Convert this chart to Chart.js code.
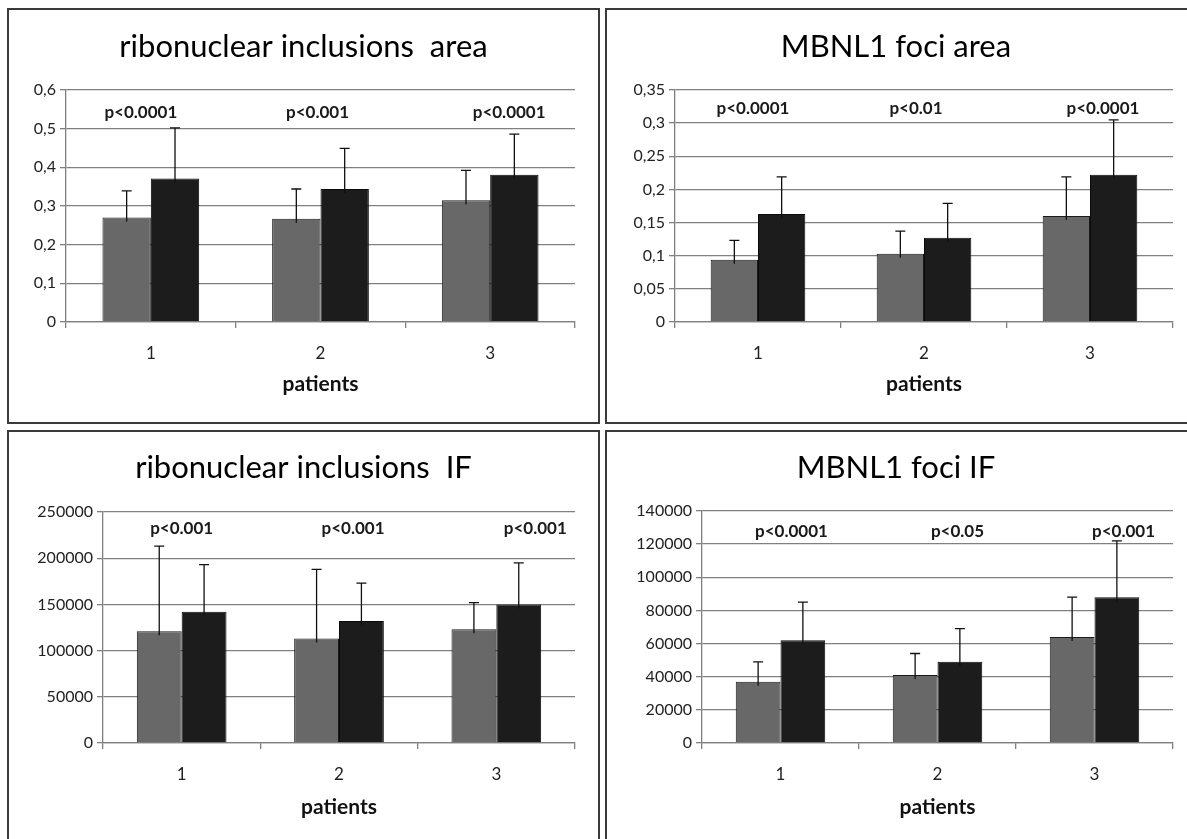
<!DOCTYPE html>
<html>
<head>
<meta charset="utf-8">
<script src="https://cdn.jsdelivr.net/npm/chart.js@4"></script>
<style>
  html, body { margin: 0; background: #fff; width: 1187px; height: 839px; overflow: hidden; }
  body { position: relative; }
  .panel { position: absolute; border: 2px solid #3a3a3a; box-sizing: border-box; }
  canvas { position: absolute; }
</style>
</head>
<body>
<div class="panel" style="left:7px;top:8px;width:593px;height:416px"></div>
<div class="panel" style="left:605px;top:8px;width:620px;height:416px"></div>
<div class="panel" style="left:7px;top:430px;width:593px;height:440px"></div>
<div class="panel" style="left:605px;top:430px;width:620px;height:440px"></div>
<canvas id="c1" width="589" height="412" style="left:9px;top:10px"></canvas>
<canvas id="c2" width="578" height="412" style="left:607px;top:10px"></canvas>
<canvas id="c3" width="589" height="407" style="left:9px;top:432px"></canvas>
<canvas id="c4" width="578" height="407" style="left:607px;top:432px"></canvas>
<script>
// ========== Data ==========
const patients = ['1', '2', '3'];

// ribonuclear inclusions area
const riAreaGray = [0.270, 0.267, 0.315];
const riAreaGrayErr = [0.069, 0.077, 0.077];
const riAreaBlack = [0.371, 0.344, 0.381];
const riAreaBlackErr = [0.131, 0.105, 0.105];
const riAreaP = ['p<0.0001', 'p<0.001', 'p<0.0001'];
const riAreaTicks = ['0', '0,1', '0,2', '0,3', '0,4', '0,5', '0,6'];

// MBNL1 foci area
const mbAreaGray = [0.094, 0.103, 0.160];
const mbAreaGrayErr = [0.029, 0.034, 0.059];
const mbAreaBlack = [0.163, 0.127, 0.222];
const mbAreaBlackErr = [0.056, 0.052, 0.083];
const mbAreaP = ['p<0.0001', 'p<0.01', 'p<0.0001'];
const mbAreaTicks = ['0', '0,05', '0,1', '0,15', '0,2', '0,25', '0,3', '0,35'];

// ribonuclear inclusions IF
const riIfGray = [121000, 113000, 123000];
const riIfGrayErr = [92000, 75000, 29000];
const riIfBlack = [142000, 132000, 150000];
const riIfBlackErr = [51000, 41000, 45000];
const riIfP = ['p<0.001', 'p<0.001', 'p<0.001'];
const riIfTicks = ['0', '50000', '100000', '150000', '200000', '250000'];

// MBNL1 foci IF
const mbIfGray = [37000, 41000, 64000];
const mbIfGrayErr = [12000, 13000, 24000];
const mbIfBlack = [62000, 49000, 88000];
const mbIfBlackErr = [23000, 20000, 34000];
const mbIfP = ['p<0.0001', 'p<0.05', 'p<0.001'];
const mbIfTicks = ['0', '20000', '40000', '60000', '80000', '100000', '120000', '140000'];

const FONT = 'Lato, Carlito, Calibri, sans-serif';

// ========== Plugins ==========
const errorBars = {
  id: 'errorBars',
  afterDatasetsDraw(chart) {
    const ctx = chart.ctx;
    const y = chart.scales.y;
    ctx.save();
    ctx.strokeStyle = '#111';
    ctx.lineWidth = 1.3;
    chart.data.datasets.forEach((ds, di) => {
      chart.getDatasetMeta(di).data.forEach((bar, i) => {
        const top = y.getPixelForValue(ds.data[i] + ds.err[i]);
        ctx.beginPath();
        ctx.moveTo(bar.x, bar.y + 4);
        ctx.lineTo(bar.x, top);
        ctx.moveTo(bar.x - 5, top);
        ctx.lineTo(bar.x + 5, top);
        ctx.stroke();
      });
    });
    ctx.restore();
  }
};

// title + p-values
const panelText = {
  id: 'panelText',
  afterDraw(chart, args, opts) {
    const ctx = chart.ctx;
    const x = chart.scales.x;
    ctx.save();
    ctx.textAlign = 'center';
    ctx.textBaseline = 'middle';
    ctx.fillStyle = '#000';
    ctx.font = '31px ' + FONT;
    ctx.fillText(opts.title, chart.width / 2, opts.titleY);
    ctx.fillStyle = '#1a1a1a';
    ctx.font = 'bold 17px ' + FONT;
    opts.labels.forEach((t, i) => {
      ctx.fillText(t, x.getPixelForValue(i) + opts.dx[i], chart.chartArea.top + opts.dy);
    });
    ctx.restore();
  }
};

// ========== Chart ==========
function makePanel(id, o) {
  new Chart(document.getElementById(id), {
    type: 'bar',
    data: {
      labels: patients,
      datasets: [
        { data: o.gray, err: o.grayErr, backgroundColor: '#686868', borderColor: '#1a1a1a', borderWidth: 1 },
        { data: o.black, err: o.blackErr, backgroundColor: '#1c1c1c', borderColor: '#0a0a0a', borderWidth: 1 }
      ]
    },
    options: {
      responsive: false,
      animation: false,
      layout: { padding: { left: 0, top: o.top, right: o.right, bottom: 0 } },
      datasets: { bar: { categoryPercentage: 0.57, barPercentage: 1 } },
      plugins: {
        legend: { display: false },
        tooltip: { enabled: false },
        panelText: { title: o.title, titleY: o.titleY, labels: o.p, dx: o.dx, dy: o.dy }
      },
      scales: {
        x: {
          grid: { offset: true, drawOnChartArea: false, drawTicks: true, tickLength: 6, color: '#808080', lineWidth: 1.3 },
          border: { color: '#808080', width: 1.3 },
          ticks: { color: '#222', font: { family: FONT, size: 17 }, padding: 15 },
          title: { display: true, text: 'patients', color: '#111', font: { family: FONT, size: 21, weight: 'bold' }, padding: { bottom: o.titlePad } },
          afterFit: s => { s.height = o.xh; }
        },
        y: {
          min: 0,
          max: o.max,
          grid: { color: '#808080', tickLength: 6, lineWidth: 1.3 },
          border: { color: '#808080', width: 1.3 },
          ticks: {
            stepSize: o.step,
            color: '#222',
            font: { family: FONT, size: 16 },
            padding: 4,
            callback: (v, i) => o.ticks[i]
          },
          afterFit: s => { s.width = o.left; }
        }
      }
    },
    plugins: [errorBars, panelText]
  });
}

makePanel('c1', {
  title: 'ribonuclear inclusions  area', titleY: 37,
  gray: riAreaGray, grayErr: riAreaGrayErr, black: riAreaBlack, blackErr: riAreaBlackErr,
  p: riAreaP, dx: [-10, -3, 19], dy: 23, ticks: riAreaTicks, max: 0.6, step: 0.1,
  top: 80, right: 23, left: 57, xh: 100, titlePad: 25
});
makePanel('c2', {
  title: 'MBNL1 foci area', titleY: 37,
  gray: mbAreaGray, grayErr: mbAreaGrayErr, black: mbAreaBlack, blackErr: mbAreaBlackErr,
  p: mbAreaP, dx: [-5, -8, 13], dy: 19, ticks: mbAreaTicks, max: 0.35, step: 0.05,
  top: 80, right: 12, left: 68, xh: 100, titlePad: 25
});
makePanel('c3', {
  title: 'ribonuclear inclusions  IF', titleY: 36,
  gray: riIfGray, grayErr: riIfGrayErr, black: riIfBlack, blackErr: riIfBlackErr,
  p: riIfP, dx: [0, 14, 39], dy: 17, ticks: riIfTicks, max: 250000, step: 50000,
  top: 80, right: 23, left: 94, xh: 96, titlePad: 19
});
makePanel('c4', {
  title: 'MBNL1 foci IF', titleY: 36,
  gray: mbIfGray, grayErr: mbIfGrayErr, black: mbIfBlack, blackErr: mbIfBlackErr,
  p: mbIfP, dx: [11, 20, 29], dy: 21, ticks: mbIfTicks, max: 140000, step: 20000,
  top: 79, right: 12, left: 95, xh: 96, titlePad: 19
});
</script>
</body>
</html>
